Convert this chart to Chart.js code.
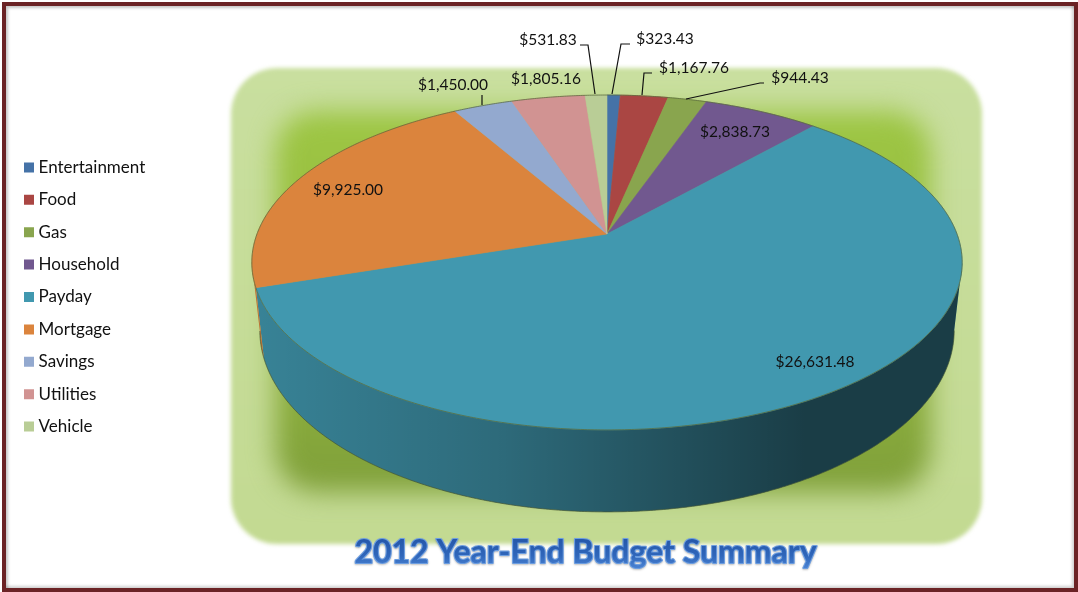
<!DOCTYPE html>
<html>
<head>
<meta charset="utf-8">
<title>2012 Year-End Budget Summary</title>
<script src="https://cdn.jsdelivr.net/npm/chart.js@4"></script>
<style>
  html, body { margin: 0; padding: 0; background: #fff; overflow: hidden; }
  #stage { position: relative; width: 1078px; height: 592px; overflow: hidden; }
  #frame { position: absolute; left: 2px; top: 2px; right: 0; bottom: 0; border: 4px solid #6b2325; box-shadow: inset 2px 2px 3px rgba(0,0,0,.22), inset -2px -2px 3px rgba(0,0,0,.18); }
  #plate { position: absolute; left: 231px; top: 68px; width: 751px; height: 476px; border-radius: 46px; background: linear-gradient(#c9df9f, #c3da92); filter: blur(2px); }
  #glow { position: absolute; left: 275px; top: 111px; width: 656px; height: 381px; border-radius: 42px; background: linear-gradient(#9dc644 0%, #97bc3f 45%, #7f9f3a 100%); filter: blur(13px); }
  canvas { position: absolute; left: 0; top: 0; }
</style>
</head>
<body>
<div id="stage">
  <div id="frame"></div>
  <div id="plate"></div>
  <div id="glow"></div>
  <canvas id="budgetChart" width="1078" height="592"></canvas>
</div>
<script>
const categories = ["Entertainment", "Food", "Gas", "Household", "Payday", "Mortgage", "Savings", "Utilities", "Vehicle"];
const amounts = [323.43, 1167.76, 944.43, 2838.73, 26631.48, 9925.00, 1450.00, 1805.16, 531.83];
const sliceColors = ["#4572a7", "#aa4643", "#89a54e", "#71588f", "#4198af", "#db843d", "#93a9cf", "#d19392", "#b9cd96"];
const chartTitle = "2012 Year-End Budget Summary";

// where each value label sits (centre x, centre y), same order as categories
const labelSpots = [[665, 39], [694, 68], [800, 78], [735, 132], [815, 362], [348, 190], [453, 85], [546, 79], [548, 40]];
// leader lines, null when the label sits on its slice
const leaders = [
  [[630, 44], [621, 44], [612, 94]],
  [[652, 73], [644, 73], [642, 95]],
  [[764, 83], [760, 83], [686, 99]],
  null, null, null,
  [[482, 95], [482, 105]],
  null,
  [[580, 45], [588, 45], [595, 94]]
];

// perspective of the pie top, the apex is not the centre of the ellipse
const CX = 607, CY = 234, R = 350, TILT = -0.17, SQUASH = 162.6;
const TOP_RX = 355, TOP_RY = 168, TOP_CY = 262;
const BOTTOM_RX = 347, BOTTOM_RY = 182, BOTTOM_CY = 330;
const FONT = "Lato, Carlito, sans-serif";

function topPoint(angle) {
  const th = angle + Math.PI / 2;
  const u = Math.sin(th), v = -Math.cos(th), w = 1 + TILT * v;
  return { x: CX + R * u / w, y: CY + SQUASH * v / w };
}

function bottomPoint(p) {
  const c = (p.x - CX) / TOP_RX, s = (p.y - TOP_CY) / TOP_RY;
  return { x: CX + BOTTOM_RX * c, y: BOTTOM_CY + BOTTOM_RY * s };
}

function sampleArc(arc) {
  const n = Math.ceil((arc.endAngle - arc.startAngle) / 0.008);
  const pts = [];
  for (let i = 0; i <= n; i++) pts.push(topPoint(arc.startAngle + (arc.endAngle - arc.startAngle) * i / n));
  return pts;
}

function formatMoney(v) {
  return "$" + v.toLocaleString("en-US", { minimumFractionDigits: 2, maximumFractionDigits: 2 });
}

const pie3d = {
  id: "pie3d",
  beforeDatasetDraw(chart, args) {
    const ctx = chart.ctx;
    const arcs = chart.getDatasetMeta(args.index).data;
    ctx.save();

    // side wall first
    arcs.forEach((arc, i) => {
      const front = sampleArc(arc).filter(p => p.y >= TOP_CY);
      if (front.length < 2) return;
      const trace = () => {
        ctx.beginPath();
        front.forEach((p, k) => k ? ctx.lineTo(p.x, p.y) : ctx.moveTo(p.x, p.y));
        front.slice().reverse().forEach(p => { const b = bottomPoint(p); ctx.lineTo(b.x, b.y); });
        ctx.closePath();
      };
      trace();
      ctx.fillStyle = sliceColors[i];
      ctx.fill();
      const shade = ctx.createLinearGradient(255, 0, 960, 0);
      shade.addColorStop(0, "rgba(0,0,0,0.14)");
      shade.addColorStop(0.35, "rgba(0,0,0,0.30)");
      shade.addColorStop(0.78, "rgba(0,0,0,0.60)");
      shade.addColorStop(1, "rgba(0,0,0,0.60)");
      trace();
      ctx.fillStyle = shade;
      ctx.fill();
      // outer rim of the wall
      ctx.beginPath();
      front.forEach((p, k) => { const b = bottomPoint(p); k ? ctx.lineTo(b.x, b.y) : ctx.moveTo(b.x, b.y); });
      ctx.strokeStyle = "rgba(70,85,50,0.7)";
      ctx.lineWidth = 1;
      ctx.stroke();
    });

    // top face
    arcs.forEach((arc, i) => {
      const pts = sampleArc(arc);
      ctx.beginPath();
      ctx.moveTo(CX, CY);
      pts.forEach(p => ctx.lineTo(p.x, p.y));
      ctx.closePath();
      ctx.fillStyle = sliceColors[i];
      ctx.strokeStyle = sliceColors[i];
      ctx.lineWidth = 0.6;
      ctx.fill();
      ctx.stroke();
    });
    arcs.forEach(arc => {
      ctx.beginPath();
      sampleArc(arc).forEach((p, k) => k ? ctx.lineTo(p.x, p.y) : ctx.moveTo(p.x, p.y));
      ctx.strokeStyle = "rgba(90,105,60,0.75)";
      ctx.lineWidth = 1;
      ctx.stroke();
    });

    ctx.restore();
    return false; // the library arcs would be plain circles
  },
  afterDraw(chart) {
    const ctx = chart.ctx;
    ctx.save();

    // leader lines and value labels
    ctx.strokeStyle = "#111";
    ctx.lineWidth = 1.2;
    leaders.forEach(line => {
      if (!line) return;
      ctx.beginPath();
      line.forEach((p, k) => k ? ctx.lineTo(p[0], p[1]) : ctx.moveTo(p[0], p[1]));
      ctx.stroke();
    });
    ctx.font = "15.5px " + FONT;
    ctx.fillStyle = "#111";
    ctx.textAlign = "center";
    ctx.textBaseline = "middle";
    amounts.forEach((v, i) => ctx.fillText(formatMoney(v), labelSpots[i][0], labelSpots[i][1]));

    // word-art style title
    ctx.font = "bold 32px " + FONT;
    ctx.lineJoin = "round";
    ctx.shadowColor = "rgba(70,70,70,0.35)";
    ctx.shadowBlur = 2;
    ctx.shadowOffsetY = 1;
    ctx.strokeStyle = "#6d9ee0";
    ctx.lineWidth = 2.2;
    ctx.strokeText(chartTitle, 585.5, 552.5);
    ctx.shadowColor = "transparent";
    const fill = ctx.createLinearGradient(0, 537, 0, 568);
    fill.addColorStop(0, "#2456a8");
    fill.addColorStop(0.6, "#2f66ba");
    fill.addColorStop(1, "#4a82d2");
    ctx.fillStyle = fill;
    ctx.fillText(chartTitle, 585.5, 552.5);
    ctx.restore();
  }
};

new Chart(document.getElementById("budgetChart"), {
  type: "pie",
  data: {
    labels: categories,
    datasets: [{
      data: amounts,
      backgroundColor: sliceColors,
      borderColor: sliceColors,
      borderWidth: 7.8 // thick stroke makes a 10px key with a tight gap to the text
    }]
  },
  options: {
    responsive: false,
    animation: false,
    devicePixelRatio: 1,
    layout: { padding: { left: 12.5, top: 2 } },
    plugins: {
      title: { display: false },
      tooltip: { enabled: false },
      legend: {
        position: "left",
        labels: {
          boxWidth: 2.2,
          boxHeight: 2.2,
          padding: 15.4,
          color: "#111",
          font: { family: FONT, size: 17 }
        }
      }
    }
  },
  plugins: [pie3d]
});
</script>
</body>
</html>
